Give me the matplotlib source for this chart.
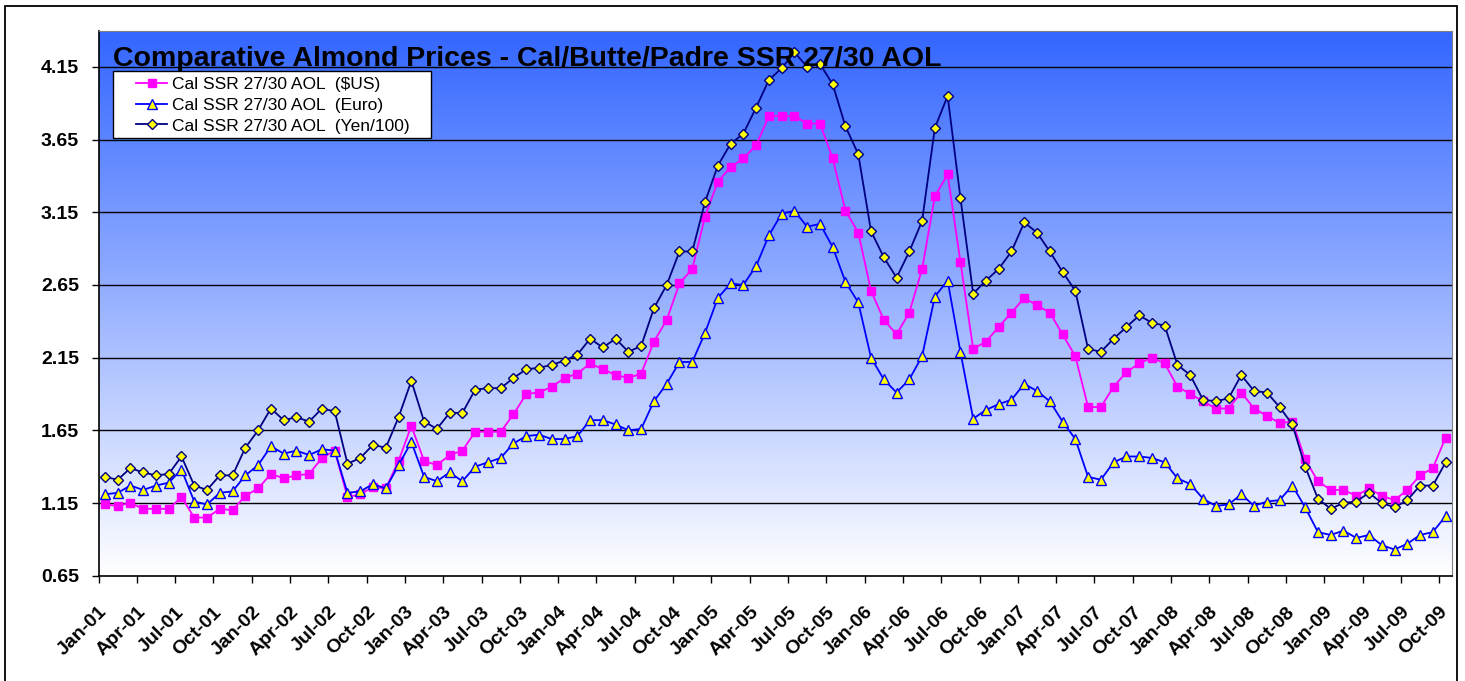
import numpy as np
import matplotlib.pyplot as plt
from matplotlib.patches import Rectangle
from matplotlib.lines import Line2D

plt.rcParams['font.family'] = ['Liberation Sans', 'DejaVu Sans']

# monthly prices, Jan-01 .. Oct-09
usd = [1.14, 1.13, 1.15, 1.11, 1.11, 1.11, 1.19, 1.05, 1.05, 1.11, 1.10, 1.20,
       1.25, 1.35, 1.32, 1.34, 1.35, 1.46, 1.51, 1.19, 1.21, 1.26, 1.25, 1.44,
       1.68, 1.44, 1.41, 1.48, 1.51, 1.64, 1.64, 1.64, 1.76, 1.90, 1.91, 1.95,
       2.01, 2.04, 2.11, 2.07, 2.03, 2.01, 2.04, 2.26, 2.41, 2.66, 2.76, 3.12,
       3.36, 3.46, 3.52, 3.61, 3.81, 3.81, 3.81, 3.76, 3.76, 3.52, 3.16, 3.01,
       2.61, 2.41, 2.31, 2.46, 2.76, 3.26, 3.41, 2.81, 2.21, 2.26, 2.36, 2.46,
       2.56, 2.51, 2.46, 2.31, 2.16, 1.81, 1.81, 1.95, 2.05, 2.11, 2.15, 2.11,
       1.95, 1.90, 1.85, 1.80, 1.80, 1.91, 1.80, 1.75, 1.70, 1.71, 1.45, 1.30,
       1.24, 1.24, 1.20, 1.25, 1.20, 1.17, 1.24, 1.34, 1.39, 1.60]
euro = [1.21, 1.22, 1.27, 1.24, 1.27, 1.29, 1.38, 1.16, 1.14, 1.22, 1.23, 1.34,
        1.41, 1.54, 1.49, 1.51, 1.48, 1.52, 1.51, 1.22, 1.23, 1.28, 1.25, 1.41,
        1.57, 1.33, 1.30, 1.36, 1.30, 1.40, 1.43, 1.46, 1.56, 1.61, 1.62, 1.59,
        1.59, 1.61, 1.72, 1.72, 1.69, 1.65, 1.66, 1.85, 1.97, 2.12, 2.12, 2.32,
        2.56, 2.66, 2.65, 2.78, 2.99, 3.14, 3.16, 3.05, 3.07, 2.91, 2.67, 2.53,
        2.15, 2.00, 1.91, 2.00, 2.16, 2.57, 2.68, 2.19, 1.73, 1.79, 1.83, 1.86,
        1.97, 1.92, 1.85, 1.71, 1.59, 1.33, 1.31, 1.43, 1.47, 1.47, 1.46, 1.43,
        1.32, 1.28, 1.18, 1.13, 1.14, 1.21, 1.13, 1.16, 1.17, 1.27, 1.12, 0.95,
        0.93, 0.96, 0.91, 0.93, 0.86, 0.83, 0.87, 0.93, 0.95, 1.06]
yen = [1.33, 1.31, 1.39, 1.36, 1.34, 1.35, 1.47, 1.27, 1.24, 1.34, 1.34, 1.53,
       1.65, 1.80, 1.72, 1.74, 1.71, 1.80, 1.78, 1.42, 1.46, 1.55, 1.53, 1.74,
       1.99, 1.71, 1.66, 1.77, 1.77, 1.93, 1.94, 1.94, 2.01, 2.07, 2.08, 2.10,
       2.13, 2.17, 2.28, 2.22, 2.28, 2.19, 2.23, 2.49, 2.65, 2.88, 2.88, 3.22,
       3.47, 3.62, 3.69, 3.87, 4.06, 4.14, 4.25, 4.15, 4.17, 4.03, 3.74, 3.55,
       3.02, 2.84, 2.70, 2.88, 3.09, 3.73, 3.95, 3.25, 2.59, 2.68, 2.76, 2.88,
       3.08, 3.01, 2.88, 2.74, 2.61, 2.21, 2.19, 2.28, 2.36, 2.44, 2.39, 2.37,
       2.10, 2.03, 1.86, 1.85, 1.87, 2.03, 1.92, 1.91, 1.81, 1.69, 1.40, 1.18,
       1.11, 1.15, 1.16, 1.22, 1.15, 1.12, 1.17, 1.27, 1.27, 1.43]

years = ['01', '02', '03', '04', '05', '06', '07', '08', '09']
quarters = ['Jan', 'Apr', 'Jul', 'Oct']
tick_labels = [q + '-' + y for y in years for q in quarters]
yticks = [0.65, 1.15, 1.65, 2.15, 2.65, 3.15, 3.65, 4.15]

W, H = 1465, 681
fig = plt.figure(figsize=(W / 100, H / 100), dpi=100)
ax = fig.add_axes([98.5 / W, 1 - 575.7 / H, (1452 - 98.5) / W, (575.7 - 30.5) / H])

n = len(usd)
x = np.arange(n)
ax.set_xlim(-0.5, n - 0.5)
ax.set_ylim(0.65, 4.40)

# gradient background
grad = np.linspace(0, 1, 256)[:, None]
top = np.array([51, 102, 255]) / 255
c = top[None, :] + grad * (1 - top[None, :])
img = np.repeat(c[:, None, :], 2, axis=1)
ax.imshow(img, extent=[-0.5, n - 0.5, 0.65, 4.40], aspect='auto', origin='upper', zorder=0)

for v in yticks[1:]:
    ax.axhline(v, color='black', lw=1, zorder=1)

ax.plot(x, usd, color='#FF00FF', lw=1.3, marker='s', ms=6, mfc='#FF00FF', mec='#FF00FF', zorder=3)
ax.plot(x, euro, color='#0000FF', lw=1.3, marker='^', ms=7, mfc='#FFFF00', mec='#0000FF', mew=1, zorder=4)
ax.plot(x, yen, color='#000080', lw=1.3, marker='D', ms=5.5, mfc='#FFFF00', mec='#000080', mew=1, zorder=5)

ax.set_yticks(yticks)
ax.set_yticklabels(['%.2f' % v for v in yticks], fontsize=14, fontweight='bold')
tick_pos = np.arange(len(tick_labels)) * 3 - 0.5
ax.set_xticks(tick_pos)
ax.set_xticklabels(tick_labels, rotation=45, ha='right', rotation_mode='anchor',
                   fontsize=14, fontweight='bold')
ax.tick_params(axis='y', length=5, width=1, pad=9)
ax.tick_params(axis='x', length=5, width=1, pad=15)
for s in ['top', 'right']:
    ax.spines[s].set_color('#808080')
for s in ['left', 'bottom']:
    ax.spines[s].set_color('black')
    ax.spines[s].set_linewidth(1.2)

ax.text(113 / W, 1 - 66 / H, 'Comparative Almond Prices - Cal/Butte/Padre SSR 27/30 AOL',
        transform=fig.transFigure, fontsize=20.5, fontweight='bold', color='black',
        ha='left', va='baseline', zorder=6)

# legend box
fig.patches.append(Rectangle((113 / W, 1 - 138 / H), (431 - 113) / W, (138 - 71) / H,
                             transform=fig.transFigure, facecolor='white',
                             edgecolor='black', lw=1, zorder=6))
handles = [
    Line2D([], [], color='#FF00FF', lw=1.3, marker='s', ms=6, mfc='#FF00FF', mec='#FF00FF'),
    Line2D([], [], color='#0000FF', lw=1.3, marker='^', ms=7, mfc='#FFFF00', mec='#0000FF'),
    Line2D([], [], color='#000080', lw=1.3, marker='D', ms=5.5, mfc='#FFFF00', mec='#000080'),
]
labels = ['Cal SSR 27/30 AOL  ($US)', 'Cal SSR 27/30 AOL  (Euro)', 'Cal SSR 27/30 AOL  (Yen/100)']
leg = fig.legend(handles, labels, loc='upper left', bbox_to_anchor=(136 / W, 1 - 77 / H),
                 frameon=False, fontsize=12.5, handlelength=1.8, handletextpad=0.3,
                 labelspacing=0.32, borderpad=0, borderaxespad=0)
leg.set_zorder(7)

# outer border
fig.patches.append(Rectangle((5 / W, -2 / H), (1457 - 5) / W, (677) / H,
                             transform=fig.transFigure, fill=False,
                             edgecolor='black', lw=1.3))

fig.savefig('out.png', dpi=100)
